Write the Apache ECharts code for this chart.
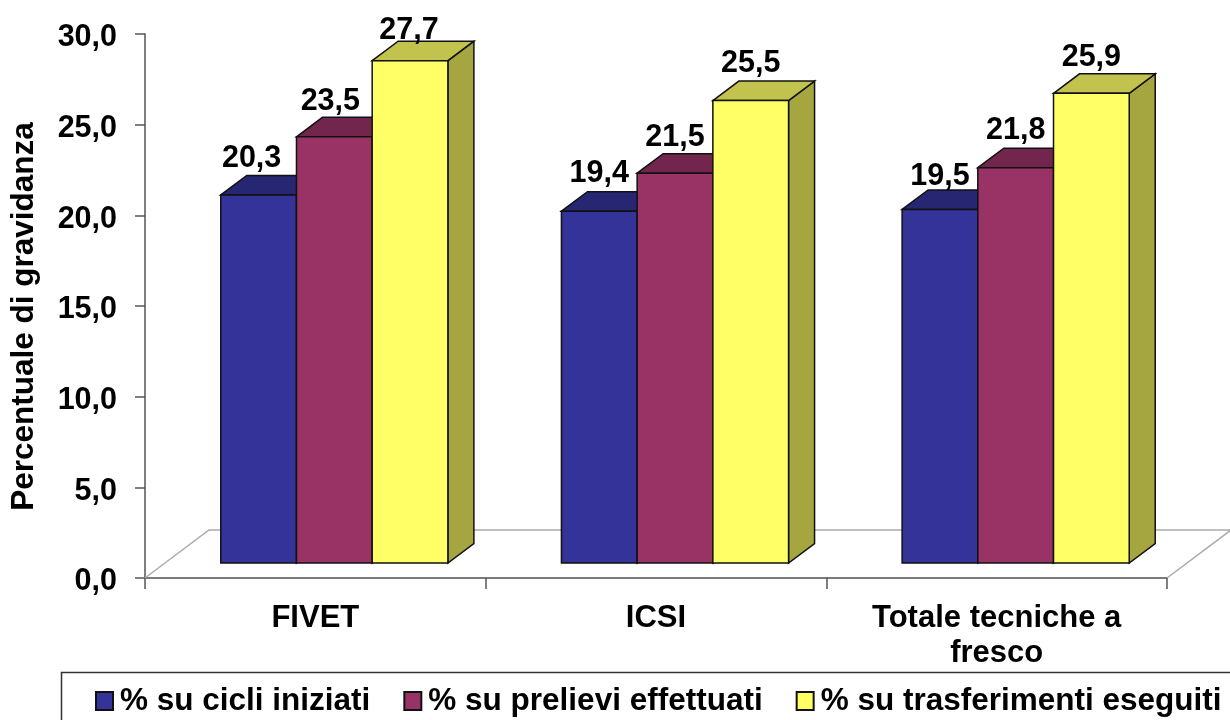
<!DOCTYPE html>
<html><head><meta charset="utf-8">
<style>html,body{margin:0;padding:0;background:#fff;overflow:hidden}#c{width:1230px;height:720px}</style>
<script src="https://cdn.jsdelivr.net/npm/echarts@6/dist/echarts.min.js"></script>
</head><body><div id="c"></div>
<script>
const categories = ['FIVET', 'ICSI', 'Totale tecniche a\nfresco'];
const cicliIniziati = [20.3, 19.4, 19.5];
const prelieviEffettuati = [23.5, 21.5, 21.8];
const trasferimentiEseguiti = [27.7, 25.5, 25.9];
const seriesNames = ['% su cicli iniziati', '% su prelievi effettuati', '% su trasferimenti eseguiti'];
const yTicks = { min: 0, max: 30, interval: 5 };

const FONT = '"Liberation Sans", Arial, sans-serif';
const PLANE = { dx: 19, dy: -15 };      // bar plane relative to the axis plane
const DEPTH = { dx: 26, dy: -19.5 };    // bar depth
const FLOOR = { dx: 64, dy: -48 };      // floor depth
const palette = [
  { front: '#333399', top: '#262673', side: '#212163' },
  { front: '#993366', top: '#73264D', side: '#632142' },
  { front: '#FFFF66', top: '#C2C24E', side: '#A6A640' }
];
// hand-placed data labels in the original: nudges per [series][category]
const labelNudgeX = [[-7, 0, 0], [-4, 0, 0], [-1, 0, 0]];
const labelNudgeY = [[2, 0, 5], [3, 2, 1], [8, 1, 2]];
const fmt = v => v.toFixed(1).replace('.', ',');

function barRender(idx) {
  return function (params, api) {
    const cat = api.value(0), val = api.value(1);
    const band = api.size([1, 0])[0];
    const w = band / 4.5;
    const centre = api.coord([cat, val]);
    const base = api.coord([cat, 0]);
    const x0 = centre[0] + PLANE.dx + (idx - 1.5) * w;
    const x1 = x0 + w;
    const yT = centre[1] + PLANE.dy;
    const yB = base[1] + PLANE.dy;
    const c = palette[idx];
    const ln = { stroke: '#111', lineWidth: 1.5 };
    const poly = (pts, fill) => ({ type: 'polygon', shape: { points: pts }, style: Object.assign({ fill: fill }, ln) });
    return {
      type: 'group',
      children: [
        poly([[x1, yT], [x1 + DEPTH.dx, yT + DEPTH.dy], [x1 + DEPTH.dx, yB + DEPTH.dy], [x1, yB]], c.side),
        poly([[x0, yT], [x0 + DEPTH.dx, yT + DEPTH.dy], [x1 + DEPTH.dx, yT + DEPTH.dy], [x1, yT]], c.top),
        poly([[x0, yT], [x1, yT], [x1, yB], [x0, yB]], c.front),
        { type: 'text', z2: 100, style: {
            x: (x0 + x1) / 2 + labelNudgeX[idx][cat], y: yT - 38 + labelNudgeY[idx][cat], text: fmt(val), fill: '#000',
            font: 'bold 30.5px ' + FONT, textAlign: 'center', textVerticalAlign: 'middle' } }
      ]
    };
  };
}
function floorRender(params, api) {
  const band = api.size([1, 0])[0];
  const a = api.coord([0, 0]), b = api.coord([categories.length - 1, 0]);
  const x0 = a[0] - band / 2, x1 = b[0] + band / 2, y = a[1];
  return { type: 'polyline', shape: { points: [[x0, y], [x0 + FLOOR.dx, y + FLOOR.dy], [x1 + FLOOR.dx, y + FLOOR.dy], [x1, y]] },
           style: { fill: null, stroke: '#ababab', lineWidth: 1.5 } };
}
const seriesValues = [cicliIniziati, prelieviEffettuati, trasferimentiEseguiti];
const chart = echarts.init(document.getElementById('c'), null, { renderer: 'canvas' });
chart.setOption({
  animation: false,
  backgroundColor: '#fff',
  grid: { left: 145, right: 63, top: 34, bottom: 142, containLabel: false, outerBoundsMode: 'none' },
  xAxis: {
    type: 'category', data: categories,
    axisLine: { lineStyle: { color: '#7a7a7a', width: 2 } },
    axisTick: { show: true, alignWithLabel: false, length: 11, lineStyle: { color: '#555', width: 1.5 } },
    axisLabel: { color: '#000', fontFamily: FONT, fontWeight: 'bold', fontSize: 31, lineHeight: 35, margin: 23, interval: 0 }
  },
  yAxis: {
    type: 'value', min: yTicks.min, max: yTicks.max, interval: yTicks.interval,
    name: 'Percentuale di gravidanza', nameLocation: 'middle', nameRotate: 90, nameGap: 105,
    nameTextStyle: { color: '#000', fontFamily: FONT, fontWeight: 'bold', fontSize: 31.5, padding: [0, 21, 0, 0] },
    axisLine: { show: true, lineStyle: { color: '#555', width: 1.5 } },
    axisTick: { show: true, length: 10, lineStyle: { color: '#555', width: 1.5 } },
    splitLine: { show: false },
    axisLabel: { color: '#000', fontFamily: FONT, fontWeight: 'bold', fontSize: 30.5, margin: 28, verticalAlign: 'top', lineHeight: 8, formatter: v => fmt(v) }
  },
  legend: {
    data: seriesNames, left: 90, top: 680, itemWidth: 17, itemHeight: 18, itemGap: 33, icon: 'rect',
    selectedMode: false, width: 1300,
    textStyle: { color: '#000', fontFamily: FONT, fontWeight: 'bold', fontSize: 31.5, padding: [0, 0, 3, 2] }
  },
  graphic: [{ type: 'rect', left: 59, top: 670, shape: { width: 1200, height: 80 }, style: { fill: null, stroke: '#333', lineWidth: 1.5 }, silent: true }],
  series: [
    { type: 'custom', name: 'floor', z: 1, silent: true, renderItem: floorRender, data: [[0, 0]], encode: { x: 0, y: 1 } }
  ].concat(seriesNames.map((n, i) => ({
    type: 'custom', name: n, z: 2 + i, renderItem: barRender(i),
    itemStyle: { color: palette[i].front, borderColor: '#111', borderWidth: 1 },
    encode: { x: 0, y: 1 },
    data: seriesValues[i].map((v, k) => [k, v])
  })))
});
</script></body></html>
